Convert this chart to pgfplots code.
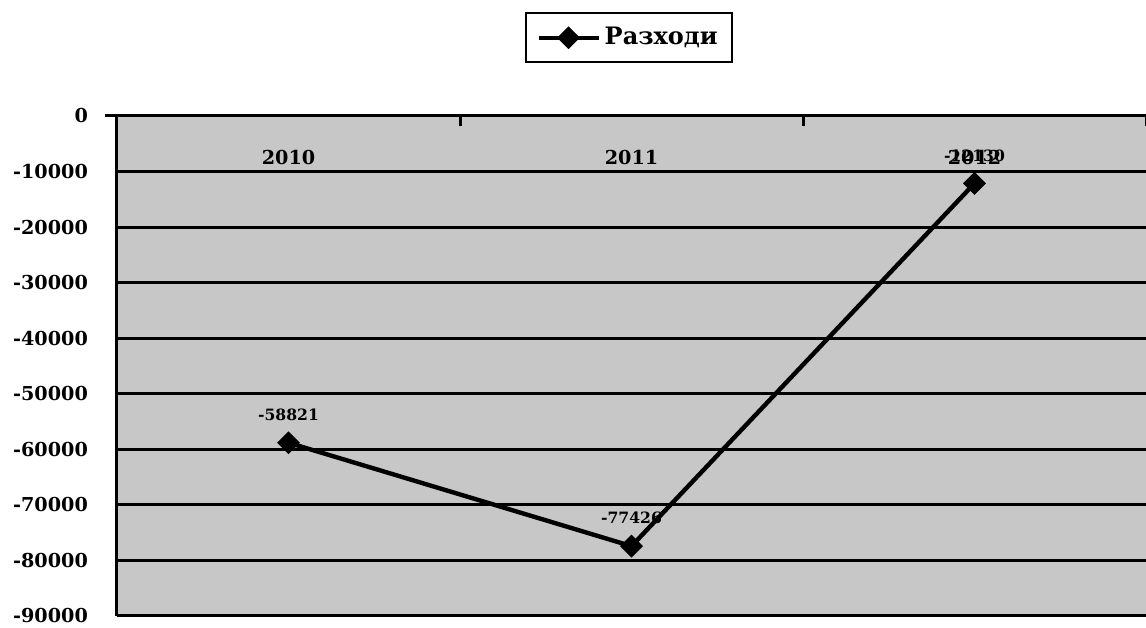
\documentclass[border=0pt]{standalone}
\usepackage{fontspec}
\setmainfont{DejaVu Serif}
\usepackage{pgfplots}
\pgfplotsset{compat=1.18}
\begin{document}
\begin{tikzpicture}
\begin{axis}[
  name=ax,
  scale only axis,
  width=514.5pt, height=250pt,
  xmin=0.5, xmax=3.5, ymin=-90000, ymax=0,
  axis background/.style={fill=black!22},
  axis x line=top, axis y line=left,
  axis line style={-, line width=1.5pt, black},
  major grid style={line width=1.5pt, black, shorten <=-6pt, shorten >=-6pt},
  tick align=inside,
  major tick length=5pt,
  tick style={line width=1.5pt, black},
  xtick={0.5,1.5,2.5,3.5},
  xticklabels={},
  ytick=\empty,
  extra x ticks={1,2,3},
  extra x tick labels={2010,2011,2012},
  extra x tick style={grid=none, major tick length=0pt, xticklabel style={anchor=center, yshift=-21pt}},
  extra y ticks={-90000,-80000,-70000,-60000,-50000,-40000,-30000,-20000,-10000,0},
  extra y tick labels={-90000,-80000,-70000,-60000,-50000,-40000,-30000,-20000,-10000,0},
  extra y tick style={grid=major, major tick length=0pt, yticklabel style={xshift=-11pt}},
  tick label style={font=\bfseries\fontsize{9.6}{11}\selectfont},
  legend style={at={(0.4976,1)}, anchor=south, yshift=26.5pt, draw=black, line width=1pt,
    font=\bfseries\fontsize{12}{14}\selectfont, inner xsep=5pt, inner ysep=5pt},
  legend image code/.code={\draw[mark repeat=2,mark phase=2] plot coordinates {(0pt,0pt) (15pt,0pt) (30pt,0pt)};},
  nodes near coords,
  point meta=explicit symbolic,
  nodes near coords style={font=\bfseries\fontsize{7.8}{9}\selectfont, anchor=center, yshift=14pt, text=black},
  clip=false,
]
\addplot[black, line width=2.2pt, mark=square*, mark size=3.8pt, mark options={solid, fill=black, line width=0.5pt, rotate=45}]
  coordinates {(1,-58821) [-58821] (2,-77426) [-77426] (3,-12130) [-12130]};
\addlegendentry{Разходи}
\end{axis}
\pgfresetboundingbox
\path (ax.north west) ++(-58.5pt,58pt) coordinate (tl);
\path (ax.south east) ++(0pt,-6pt) coordinate (br);
\path (tl) rectangle (br);
\end{tikzpicture}
\end{document}
